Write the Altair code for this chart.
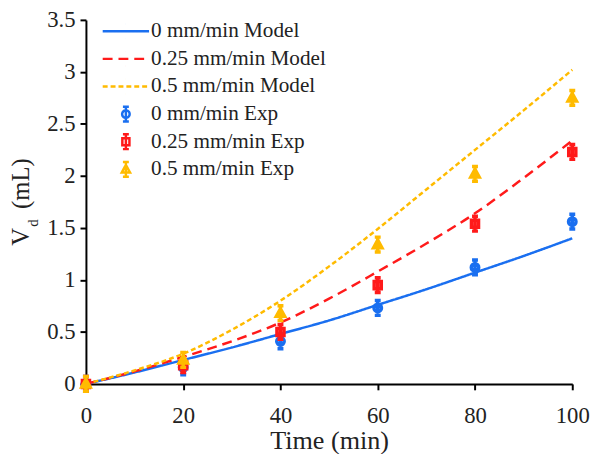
import altair as alt
import pandas as pd

# ---- data ----
t_model = [0, 10, 20, 30, 40, 50, 60, 70, 80, 90, 100]
model_0 = [0, 0.11, 0.23, 0.35, 0.48, 0.61, 0.76, 0.91, 1.07, 1.23, 1.40]
model_025 = [0, 0.12, 0.26, 0.41, 0.59, 0.82, 1.08, 1.35, 1.64, 1.98, 2.34]
model_05 = [0, 0.13, 0.29, 0.52, 0.80, 1.13, 1.49, 1.87, 2.25, 2.63, 3.02]

t_exp = [0, 20, 40, 60, 80, 100]
exp_0 = [0, 0.16, 0.41, 0.73, 1.12, 1.56]
exp_025 = [0, 0.18, 0.50, 0.95, 1.54, 2.23]
exp_05 = [0, 0.23, 0.68, 1.34, 2.02, 2.75]

series = ["0 mm/min Model", "0.25 mm/min Model", "0.5 mm/min Model",
          "0 mm/min Exp", "0.25 mm/min Exp", "0.5 mm/min Exp"]
colors = ["#1a6ff0", "#ff1a1a", "#ffbb00", "#1a6ff0", "#ff1a1a", "#ffbb00"]

x_ticks = [0, 20, 40, 60, 80, 100]
y_ticks = [0, 0.5, 1, 1.5, 2, 2.5, 3, 3.5]

# ---- tables ----
rows = []
for name, vals in zip(series[:3], [model_0, model_025, model_05]):
    for t, v in zip(t_model, vals):
        rows.append({"t": t, "v": v, "series": name})
model_df = pd.DataFrame(rows)

rows = []
for name, vals in zip(series[3:], [exp_0, exp_025, exp_05]):
    for t, v in zip(t_exp, vals):
        rows.append({"t": t, "v": v, "series": name})
exp_df = pd.DataFrame(rows)

# ---- styles ----
FONT = "Liberation Serif, Times New Roman, serif"
TXT = "#222222"
line_path = "M-2.35,0H2.35M0,-0.75L0.002,-0.75M0,0.75L0.002,0.75"
bar = "M0,-0.75V0.75M-0.3,-0.75H0.3M-0.3,0.75H0.3"
circle_path = "M-0.38,0A0.38,0.38 0 1,0 0.38,0A0.38,0.38 0 1,0 -0.38,0" + bar
square_path = "M-0.36,-0.36H0.36V0.36H-0.36Z" + bar
tri_path = "M0,-0.45L0.42,0.32H-0.42Z" + bar
shapes = [line_path, line_path, line_path, circle_path, square_path, tri_path]
dashes = [[1, 0], [10, 6], [5, 3], [1, 0], [1, 0], [1, 0]]

legend = alt.Legend(
    title=None, orient="none", legendX=29, legendY=0,
    labelFont=FONT, labelFontSize=21.5, labelColor=TXT,
    symbolSize=400, symbolStrokeWidth=2.5, labelOffset=14,
    rowPadding=3, padding=0, labelLimit=400,
)

color = alt.Color("series:N", scale=alt.Scale(domain=series, range=colors), legend=legend)
shape = alt.Shape("series:N", scale=alt.Scale(domain=series, range=shapes), legend=legend)
dash = alt.StrokeDash("series:N", scale=alt.Scale(domain=series, range=dashes), legend=legend)

axis_style = dict(grid=False, labelFlush=False, labelFont=FONT, labelFontSize=23,
                  labelColor=TXT, domainColor="black", domainWidth=2,
                  tickColor="black", tickWidth=2, tickSize=6)

x_enc = alt.X("t:Q", scale=alt.Scale(domain=[0, 100], nice=False),
              axis=alt.Axis(values=x_ticks, title="Time (min)",
                            labelPadding=33, labelBaseline="alphabetic",
                            titleFont=FONT, titleFontSize=26.5, titleFontWeight="normal",
                            titleColor=TXT, titleBaseline="alphabetic", titleY=65,
                            **axis_style))
y_enc = alt.Y("v:Q", scale=alt.Scale(domain=[0, 3.5], nice=False),
              axis=alt.Axis(values=y_ticks, format="~g", title=None,
                            labelPadding=5, **axis_style))

lines = alt.Chart(model_df).mark_line(strokeWidth=2.5, interpolate="monotone").encode(
    x=x_enc, y=y_enc, color=color, strokeDash=dash
)
points = alt.Chart(exp_df).mark_point(filled=False, size=400, strokeWidth=3.5, opacity=1).encode(
    x="t:Q", y="v:Q", color=color, shape=shape
)

one = pd.DataFrame({"k": [0]})
t_V = alt.Chart(one).mark_text(text="V", font=FONT, fontSize=25, angle=270, align="center",
                               baseline="alphabetic", color=TXT).encode(
    x=alt.value(-58), y=alt.value(220))
t_d = alt.Chart(one).mark_text(text="d", font=FONT, fontSize=15, angle=270, align="center",
                               baseline="alphabetic", color=TXT).encode(
    x=alt.value(-49), y=alt.value(206))
t_mL = alt.Chart(one).mark_text(text="(mL)", font=FONT, fontSize=25, angle=270, align="center",
                                baseline="alphabetic", color=TXT).encode(
    x=alt.value(-58), y=alt.value(166))

chart = alt.layer(lines, points, t_V, t_d, t_mL).properties(
    width=493, height=369,
    padding={"left": 79, "top": 9, "right": 20, "bottom": 68},
    autosize=alt.AutoSizeParams(type="none"),
).configure_view(stroke=None)

chart.save("out.html", embed_options={"renderer": "svg", "actions": False})
